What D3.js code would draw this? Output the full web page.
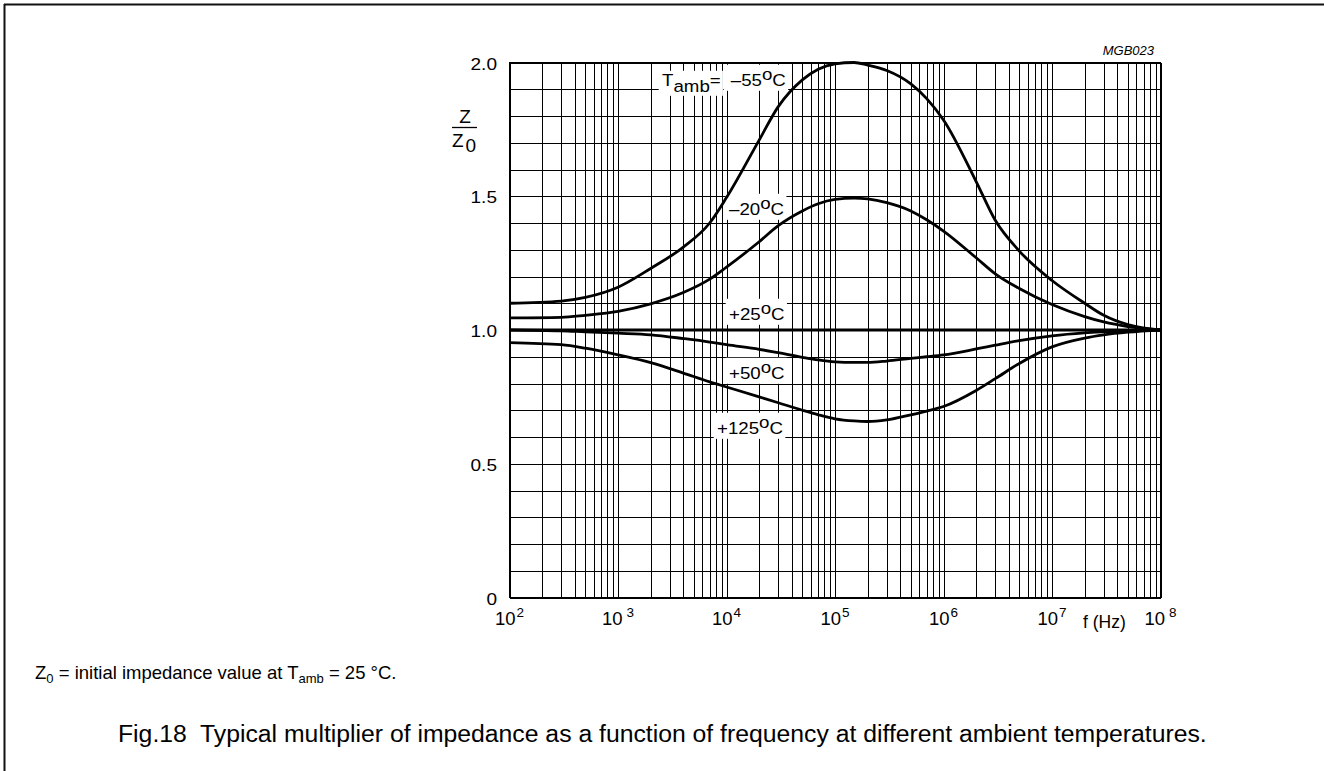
<!DOCTYPE html>
<html><head><meta charset="utf-8">
<script src="https://cdn.jsdelivr.net/npm/d3@7"></script>
<style>
html,body{margin:0;padding:0;background:#fff;}
svg text{font-family:"Liberation Sans",Arial,Helvetica,sans-serif;fill:#000;}
</style></head>
<body>
<svg id="c" width="1324" height="771"></svg>
<script>
// ---- data ----
const freqs = [1e2, 3e2, 5e2, 1e3, 2e3, 4e3, 7e3, 1e4, 2e4, 3e4, 5e4, 7e4, 1e5, 1.5e5, 2e5, 3e5, 5e5, 7e5, 1e6, 2e6, 3e6, 5e6, 1e7, 2e7, 3e7, 5e7, 1e8];
const zMinus55 = [1.10, 1.108, 1.122, 1.16, 1.23, 1.31, 1.40, 1.495, 1.71, 1.835, 1.935, 1.975, 1.995, 2.0, 1.99, 1.97, 1.92, 1.865, 1.785, 1.555, 1.41, 1.295, 1.185, 1.10, 1.055, 1.02, 1.0];
const zMinus20 = [1.045, 1.047, 1.055, 1.07, 1.098, 1.14, 1.19, 1.235, 1.33, 1.39, 1.445, 1.472, 1.488, 1.493, 1.49, 1.476, 1.445, 1.412, 1.37, 1.27, 1.21, 1.155, 1.095, 1.05, 1.03, 1.013, 1.0];
const zPlus25  = [1.0, 1.0, 1.0, 1.0, 1.0, 1.0, 1.0, 1.0, 1.0, 1.0, 1.0, 1.0, 1.0, 1.0, 1.0, 1.0, 1.0, 1.0, 1.0, 1.0, 1.0, 1.0, 1.0, 1.0, 1.0, 1.0, 1.0];
const zPlus50  = [1.0, 0.997, 0.993, 0.988, 0.982, 0.968, 0.955, 0.945, 0.928, 0.915, 0.898, 0.888, 0.881, 0.879, 0.879, 0.884, 0.894, 0.90, 0.907, 0.929, 0.943, 0.96, 0.978, 0.989, 0.993, 0.997, 1.0];
const zPlus125 = [0.953, 0.945, 0.932, 0.907, 0.878, 0.839, 0.806, 0.787, 0.75, 0.728, 0.70, 0.683, 0.668, 0.66, 0.658, 0.664, 0.683, 0.697, 0.714, 0.774, 0.818, 0.875, 0.937, 0.97, 0.982, 0.992, 1.0];
const seriesNames = ["–55", "–20", "+25", "+50", "+125"];
const xDecades = [2, 3, 4, 5, 6, 7, 8];
const yTickLabels = ["0", "0.5", "1.0", "1.5", "2.0"];
const yTickValues = [0, 0.5, 1.0, 1.5, 2.0];

// ---- layout ----
const svg = d3.select("#c");
const L = 509.5, R = 1160.5, T = 62.5, B = 597.5;
const x = d3.scaleLog().domain([1e2, 1e8]).range([L, R]);
const y = d3.scaleLinear().domain([0, 2]).range([B, T]);

// frame (top & left only)
svg.append("line").attr("x1", 4).attr("x2", 1324).attr("y1", 4.5).attr("y2", 4.5).attr("stroke", "#111").attr("stroke-width", 2);
svg.append("line").attr("x1", 4.5).attr("x2", 4.5).attr("y1", 4).attr("y2", 771).attr("stroke", "#111").attr("stroke-width", 2);

// grid via axes
const minor = [];
for (let e = 2; e < 8; e++) for (let m = 1; m <= 9; m++) minor.push(m * Math.pow(10, e));
minor.push(1e8);
const gx = svg.append("g").attr("transform", `translate(0,${B})`)
  .call(d3.axisBottom(x).tickValues(minor).tickSize(-(B - T)).tickFormat(""));
const yGrid = d3.range(0, 21).map(i => i / 10);
const gy = svg.append("g").attr("transform", `translate(${L},0)`)
  .call(d3.axisLeft(y).tickValues(yGrid).tickSize(-(R - L)).tickFormat(""));
[gx, gy].forEach(g => {
  g.select(".domain").remove();
  g.selectAll(".tick line").attr("stroke", "#000").attr("stroke-width", 1).attr("shape-rendering", "crispEdges");
});
svg.append("rect").attr("x", L).attr("y", T).attr("width", R - L).attr("height", B - T)
  .attr("fill", "none").attr("stroke", "#000").attr("stroke-width", 1.3).attr("shape-rendering", "crispEdges");

// layers
const boxLayer = svg.append("g");
const curveLayer = svg.append("g");
const textLayer = svg.append("g");

// y tick labels
textLayer.append("g").selectAll("text").data(yTickValues).join("text")
  .attr("transform", (d) => `translate(497,${y(d) + 7}) scale(1.12,1)`)
  .attr("text-anchor", "end").attr("font-size", 17).text((d, i) => yTickLabels[i]);

// x tick labels 10^n
const xl = textLayer.append("g").selectAll("text").data(xDecades).join("text")
  .attr("x", d => x(Math.pow(10, d))).attr("y", 625)
  .attr("text-anchor", "middle").attr("font-size", 18.5);
xl.append("tspan").text("10");
xl.append("tspan").attr("font-size", 13.5).attr("dy", -8).attr("dx", d => (d === 3 || d === 8) ? 4 : 1).text(d => d);

textLayer.append("text").attr("x", 1083).attr("y", 628).attr("font-size", 17.5).text("f (Hz)");

// y title Z / Z0
textLayer.append("text").attr("x", 465).attr("y", 123).attr("text-anchor", "middle").attr("font-size", 19).text("Z");
textLayer.append("line").attr("x1", 452).attr("x2", 477).attr("y1", 127.5).attr("y2", 127.5).attr("stroke", "#000").attr("stroke-width", 1.3);
const zt = textLayer.append("text").attr("x", 452).attr("y", 147).attr("font-size", 19);
zt.append("tspan").text("Z");
zt.append("tspan").attr("dy", 5).attr("dx", 2).text("0");

// MGB023
textLayer.append("text").attr("x", 1154).attr("y", 55).attr("text-anchor", "end")
  .attr("font-size", 13).attr("font-style", "italic").text("MGB023");

// curves
const line = d3.line().x((d, i) => x(freqs[i])).y(d => y(d)).curve(d3.curveMonotoneX);
[zMinus55, zMinus20, zPlus25, zPlus50, zPlus125].forEach(s => {
  curveLayer.append("path").attr("d", line(s)).attr("fill", "none").attr("stroke", "#000")
    .attr("stroke-width", 2.8).attr("stroke-linejoin", "round");
});

// curve labels with white boxes (boxes under curves, text on top)
function label(px, py, parts, pad) {
  const tf = `translate(${px},${py}) scale(1.1,1)`;
  const g = textLayer.append("g").attr("transform", tf);
  const t = g.append("text").attr("font-size", 17).attr("x", 0).attr("y", 0);
  parts.forEach(p => {
    const ts = t.append("tspan").text(p[0]);
    if (p[1]) ts.attr("dy", p[1]);
  });
  const bb = t.node().getBBox();
  boxLayer.append("g").attr("transform", tf).append("rect")
    .attr("x", bb.x - 3).attr("y", bb.y + pad[0])
    .attr("width", bb.width + 5).attr("height", bb.height - pad[0] + pad[1]).attr("fill", "#fff");
}
function tempLabel(px, py, name) {
  label(px, py, [[name, 0], ["o", -6], ["C", 6]], [0, 1]);
}
label(662, 86, [["T", 0], ["amb", 6], ["=", -6]], [0, 0]);
tempLabel(727, 86, "\u2009" + seriesNames[0]);
tempLabel(729, 215, seriesNames[1]);
tempLabel(729, 320, seriesNames[2]);
tempLabel(729, 379, seriesNames[3]);
tempLabel(717, 434, seriesNames[4]);

// footnote
const fn = svg.append("text").attr("x", 35).attr("y", 679).attr("font-size", 18.5).style("white-space", "pre");
fn.append("tspan").text("Z");
fn.append("tspan").attr("font-size", 13).attr("dy", 4).text("0");
fn.append("tspan").attr("dy", -4).text(" = initial impedance value at T");
fn.append("tspan").attr("font-size", 13).attr("dy", 4).text("amb");
fn.append("tspan").attr("dy", -4).text(" = 25 \u00B0C.");

// caption
svg.append("text").attr("x", 118).attr("y", 742).attr("font-size", 24.75).style("white-space", "pre")
  .text("Fig.18  Typical multiplier of impedance as a function of frequency at different ambient temperatures.");
</script>
</body></html>
